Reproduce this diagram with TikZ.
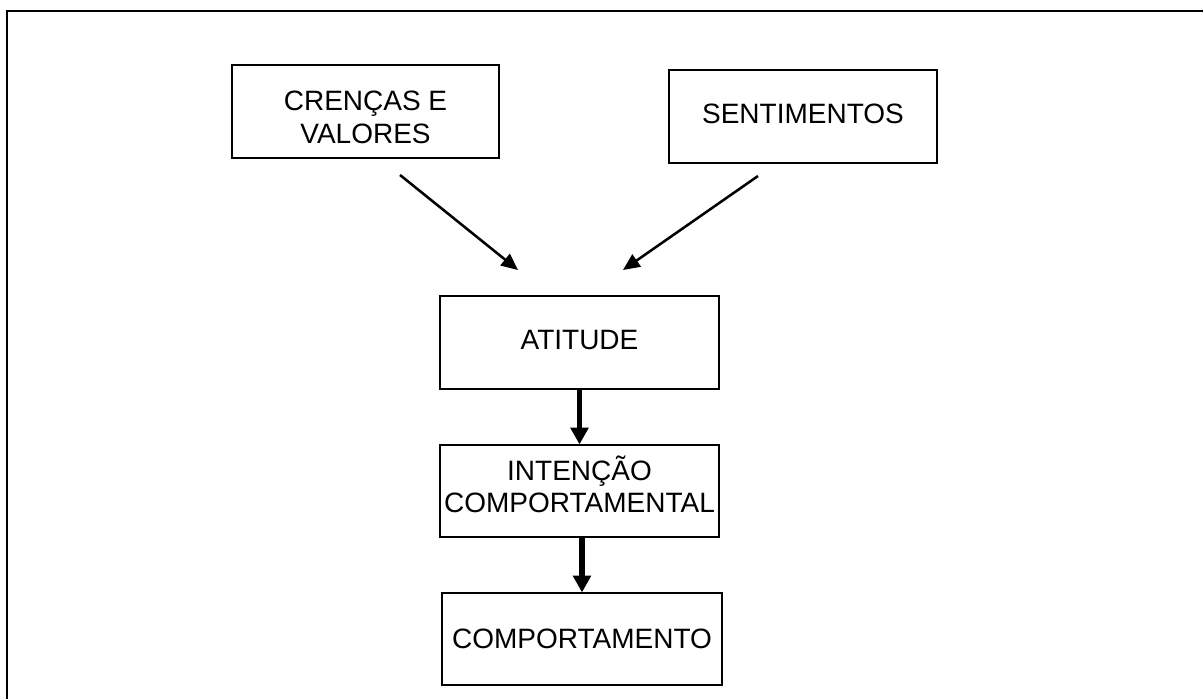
\documentclass[tikz,border=0pt]{standalone}
\usepackage{fontspec}
\setmainfont{Liberation Sans}
\usetikzlibrary{arrows.meta}
\begin{document}
\begin{tikzpicture}[x=0.75pt,y=-0.75pt,
  box/.style={draw, line width=0.9pt, inner sep=0pt, align=center,
    font=\fontsize{21}{24.5}\selectfont},
  thinarrow/.style={line width=1.9pt, -{Triangle[length=12.5pt,width=11pt]}},
  thickarrow/.style={line width=4.3pt, -{Triangle[length=12.5pt,width=13pt]}},
  frame/.style={line width=1.5pt}]
\useasboundingbox (0,0) rectangle (1203,699);
\coordinate (fbl) at (7,699);
\coordinate (ftl) at (7,11);
\coordinate (ftr) at (1203,11);
\draw[frame] (fbl) -- (ftl) -- (ftr);

\node[box, minimum width=200.25pt, minimum height=69.75pt, text height=47.7pt] (crencas) at (365.5,111.5) {CRENÇAS E\\VALORES};
\node[box, minimum width=201pt, minimum height=69.75pt, text height=10.2pt, text depth=0pt] (sent) at (803,116.5) {SENTIMENTOS};
\node[box, minimum width=209.25pt, minimum height=69.75pt, text height=11.2pt, text depth=0pt] (atitude) at (579.5,342.5) {ATITUDE};
\node[box, minimum width=209.25pt, minimum height=69pt, text depth=10.4pt] (intencao) at (579.5,491) {INTENÇÃO\\COMPORTAMENTAL};
\node[box, minimum width=210pt, minimum height=69pt, text height=13.5pt, text depth=0pt] (comp) at (582,639) {COMPORTAMENTO};

\coordinate (a1s) at (400,175);
\coordinate (a1e) at (518,270);
\coordinate (a2s) at (758,176);
\coordinate (a2e) at (623,270);
\draw[thinarrow] (a1s) -- (a1e);
\draw[thinarrow] (a2s) -- (a2e);
\draw[thickarrow] (atitude.south) -- (intencao.north);
\draw[thickarrow] (comp.north |- intencao.south) -- (comp.north);
\end{tikzpicture}
\end{document}
